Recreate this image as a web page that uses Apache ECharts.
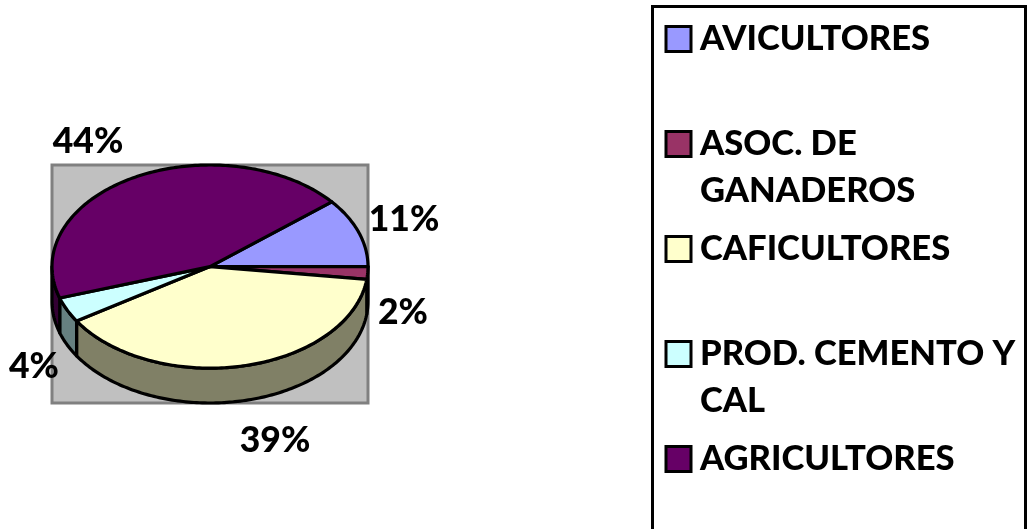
<!DOCTYPE html>
<html>
<head>
<meta charset="utf-8">
<style>
    html, body { margin: 0; padding: 0; background: #fff; }
    #container { width: 1029px; height: 529px; }
</style>
<script src="https://cdn.jsdelivr.net/npm/echarts@6/dist/echarts.min.js"></script>
</head>
<body>
<div id="container"></div>
<script>
// datos
var categories = ['AVICULTORES', 'ASOC. DE GANADEROS', 'CAFICULTORES', 'PROD. CEMENTO Y CAL', 'AGRICULTORES'];
var legendLabels = ['AVICULTORES', 'ASOC. DE\nGANADEROS', 'CAFICULTORES', 'PROD. CEMENTO Y\nCAL', 'AGRICULTORES'];
var shares = [11, 2, 39, 4, 44];

// estilo
var topColors = ['#9999FF', '#993366', '#FFFFCC', '#CCFFFF', '#660066'];
var wallColors = ['#4D4D80', '#4D1A33', '#808066', '#668080', '#330033'];
var labelAnchors = [[404, 220], [403, 313], [275, 441], [34, 367], [88, 142]];
var legendCenters = [37, 142, 247, 352, 457];
var fontName = 'Lato';
var fontSize = 34.6;
var labelSize = 35.5;
var lineH = 47;
var startAngle = 39.6; // la primera porcion empieza aqui y va en sentido horario
var depth = 0.343;     // alto de la pared, en unidades del eje y

var dom = document.getElementById('container');
var myChart = echarts.init(dom);

function rad(deg) {
    return deg * Math.PI / 180;
}

// arco de la elipse, de a un grado
function arc(api, from, to, drop) {
    var pts = [];
    var n = Math.max(2, Math.ceil(Math.abs(to - from)));
    for (var i = 0; i <= n; i++) {
        var a = rad(from + (to - from) * i / n);
        pts.push(api.coord([Math.cos(a), Math.sin(a) - drop]));
    }
    return pts;
}

function makeRender(idx) {
    var before = 0;
    for (var i = 0; i < idx; i++) before += shares[i];
    var a0 = startAngle - before * 3.6;
    var a1 = a0 - shares[idx] * 3.6;
    var lineStyle = { stroke: '#000', lineWidth: 3.2, lineJoin: 'round' };

    return function (params, api) {
        var children = [];

        // pared: solo la parte del frente (angulos entre -180 y 0)
        var walls = [[a0, a1], [a0 + 360, a1 + 360], [a0 - 360, a1 - 360]];
        for (var w = 0; w < walls.length; w++) {
            var hi = Math.min(walls[w][0], 0);
            var lo = Math.max(walls[w][1], -180);
            if (hi > lo) {
                var upper = arc(api, hi, lo, 0);
                var lower = arc(api, lo, hi, depth);
                children.push({
                    type: 'polygon',
                    shape: { points: upper.concat(lower) },
                    style: Object.assign({ fill: wallColors[idx] }, lineStyle)
                });
            }
        }

        // tapa
        var top = [api.coord([0, 0])].concat(arc(api, a0, a1, 0));
        children.push({
            type: 'polygon',
            shape: { points: top },
            style: Object.assign({ fill: topColors[idx] }, lineStyle)
        });

        // porcentaje
        children.push({
            type: 'text',
            x: labelAnchors[idx][0],
            y: labelAnchors[idx][1],
            style: {
                text: shares[idx] + '%',
                fill: '#000',
                font: '900 ' + labelSize + 'px ' + fontName,
                align: 'center',
                verticalAlign: 'middle'
            }
        });
        return { type: 'group', children: children };
    };
}

var seriesList = [];
var legendList = [];
for (var i = 0; i < categories.length; i++) {
    seriesList.push({
        type: 'custom',
        name: categories[i],
        coordinateSystem: 'cartesian2d',
        clip: false,
        silent: true,
        itemStyle: { color: topColors[i] },
        renderItem: makeRender(i),
        data: [[0, shares[i]]]
    });
    var twoLines = legendLabels[i].indexOf('\n') > -1;
    legendList.push({
        show: true,
        orient: 'vertical',
        left: 664.5,
        // el cuadro queda centrado con el bloque de texto
        top: legendCenters[i] - (twoLines ? lineH * 1.5 : lineH / 2),
        padding: 0,
        selectedMode: false,
        icon: 'rect',
        itemWidth: 25,
        itemHeight: 25,
        itemStyle: { borderColor: '#000', borderWidth: 3 },
        formatter: (function (label, two) {
            // linea en blanco arriba para que la primera quede junto al cuadro
            return function () { return two ? '\u00a0\n' + label : label; };
        })(legendLabels[i], twoLines),
        textStyle: {
            color: '#000',
            fontFamily: fontName,
            fontWeight: 900,
            fontSize: fontSize,
            lineHeight: lineH,
            padding: [4, 0, 0, 4]
        },
        data: [categories[i]]
    });
}

var option = {
    animation: false,
    backgroundColor: '#fff',
    tooltip: { show: false },
    grid: {
        show: true,
        left: 52,
        top: 165,
        width: 316,
        height: 238,
        backgroundColor: '#C0C0C0',
        borderColor: '#808080',
        borderWidth: 3
    },
    xAxis: { type: 'value', min: -1, max: 1, show: false },
    yAxis: { type: 'value', min: -1 - depth, max: 1, show: false },
    legend: legendList,
    graphic: [{
        type: 'rect',
        z: -1,
        shape: { x: 652.5, y: 6.5, width: 373, height: 600 },
        style: { fill: '#fff', stroke: '#000', lineWidth: 3 }
    }],
    series: seriesList
};
myChart.setOption(option, true);
</script>
</body>
</html>
